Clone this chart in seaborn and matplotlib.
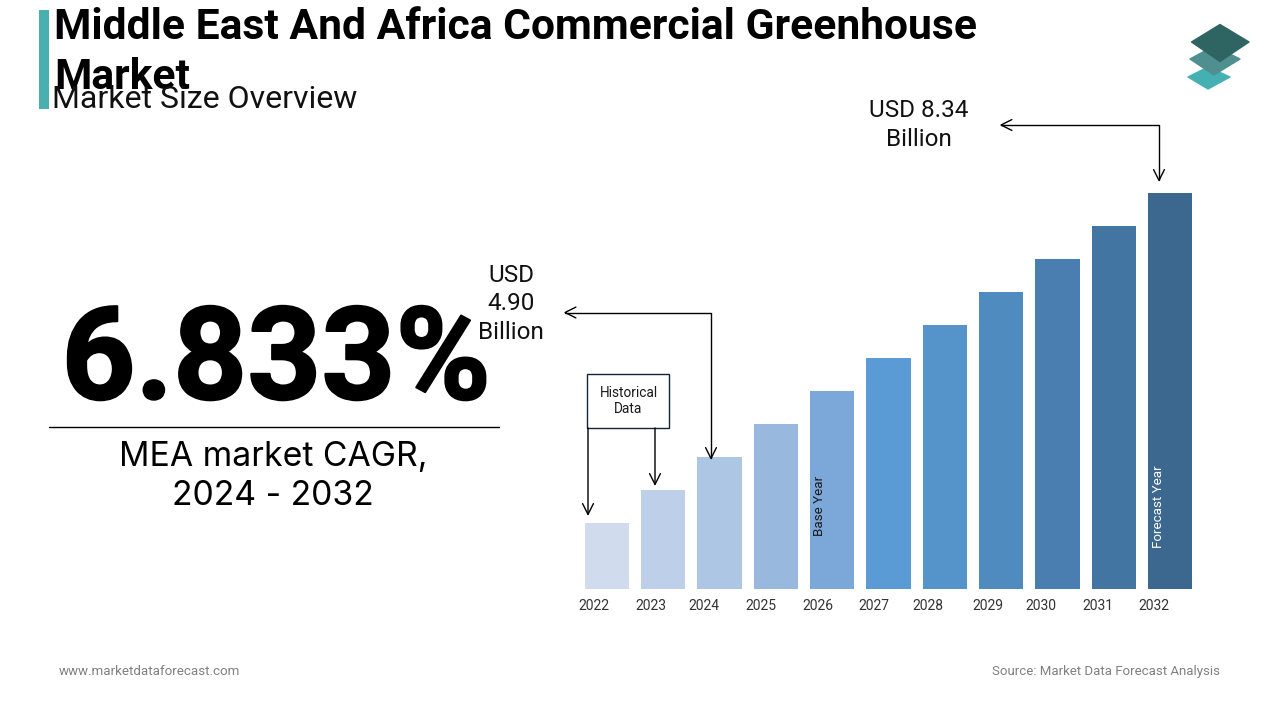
import matplotlib
matplotlib.use("Agg")
import matplotlib.pyplot as plt
import matplotlib.patheffects as pe
from matplotlib.patches import FancyArrowPatch, Polygon, Rectangle
from matplotlib.path import Path
from matplotlib.transforms import ScaledTranslation
import pandas as pd
import seaborn as sns

years = ["2022", "2023", "2024", "2025", "2026", "2027", "2028", "2029", "2030", "2031", "2032"]
bar_heights = [66, 99, 132, 165, 198, 231, 264, 297, 330, 363, 396]
bar_colors = ["#D0DCEE", "#BED0E9", "#ADC6E4", "#98B8DE", "#7BA8D9", "#5B9BD5",
              "#5593CB", "#4F8BBF", "#4A7EB0", "#4275A1", "#3C688F"]
label_shift_px = [-13, -12, -16, -15, -14, -15, -17, -13, -17, -16, -16]

title_text = "Middle East And Africa Commercial Greenhouse\nMarket"
subtitle_text = "Market Size Overview"
cagr_text = "6.833%"
cagr_caption = "MEA market CAGR,\n2024 - 2032"
callout_2024 = "USD\n4.90\nBillion"
callout_2032 = "USD 8.34\nBillion"
footer_left = "www.marketdataforecast.com"
footer_right = "Source: Market Data Forecast Analysis"

sns.set_theme(style="white")
plt.rcParams["font.family"] = ["Roboto", "DejaVu Sans"]

W, H = 1280, 720
fig = plt.figure(figsize=(12.8, 7.2), dpi=100, facecolor="white")

# bar chart axes
L, R, B, T = 578.85, 1198.15, 589, 180
ax = fig.add_axes([L / W, 1 - B / H, (R - L) / W, (B - T) / H])
df = pd.DataFrame({"year": years, "height": bar_heights})
sns.barplot(data=df, x="year", y="height", hue="year", palette=bar_colors,
            dodge=False, legend=False, width=0.787, saturation=1, linewidth=0, ax=ax)
ax.set_xlim(-0.5, 10.5)
ax.set_ylim(0, B - T)
ax.set_xlabel("")
ax.set_ylabel("")
ax.set_yticks([])
sns.despine(ax=ax, left=True, bottom=True)
ax.tick_params(axis="x", length=0, pad=7)
for lab, dx in zip(ax.get_xticklabels(), label_shift_px):
    lab.set_fontsize(10)
    lab.set_color("#333333")
    lab.set_transform(lab.get_transform() + ScaledTranslation(dx / 100, 0, fig.dpi_scale_trans))

# overlay in pixel coordinates
ov = fig.add_axes([0, 0, 1, 1], facecolor="none")
ov.set_xlim(0, W)
ov.set_ylim(H, 0)
ov.axis("off")

ov.add_patch(Rectangle((39, 10), 10, 99, fc="#4AAFAF", ec="none"))
ov.text(54, 88.7, title_text, fontsize=30.7, fontweight="bold", color="black",
        va="baseline", ha="left", linespacing=1.27)
ov.text(52, 108.5, subtitle_text, fontsize=23, color="#111111", va="baseline", ha="left")

big = ov.text(276, 399, cagr_text, fontsize=93, fontweight="bold", family="Roboto", color="black",
              va="baseline", ha="center")
big.set_path_effects([pe.withStroke(linewidth=1.5, foreground="black")])
ov.plot([49, 499], [427, 427], color="black", lw=1)
ov.text(273, 476.5, cagr_caption, fontsize=24.3, family="Inter", color="black",
        va="center", ha="center", linespacing=1.3)

ov.text(511, 304, callout_2024, fontsize=17.5, color="#111111", ha="center", va="center", linespacing=1.3)
ov.text(919, 125, callout_2032, fontsize=17.5, color="#111111", ha="center", va="center", linespacing=1.32)
ov.add_patch(Rectangle((587, 373.5), 82, 54, fc="white", ec="#12263a", lw=1, zorder=1))
ov.text(628.5, 401, "Historical\nData", fontsize=9.8, color="#1a1a1a", ha="center", va="center", linespacing=1.16)

arrow = dict(color="black", lw=1, mutation_scale=13, shrinkA=0, shrinkB=0, zorder=5)
both = "<->,head_length=0.6,head_width=0.3"
one = "->,head_length=0.6,head_width=0.3"
ov.add_patch(FancyArrowPatch(path=Path([(563.5, 312.5), (711, 312.5), (711, 460)]), arrowstyle=both, **arrow))
ov.add_patch(FancyArrowPatch(path=Path([(999.5, 125), (1159, 125), (1159, 182)]), arrowstyle=both, **arrow))
ov.add_patch(FancyArrowPatch((588, 428), (588, 516), arrowstyle=one, **arrow))
ov.add_patch(FancyArrowPatch((655, 428), (655, 486), arrowstyle=one, **arrow))

ov.text(819.5, 506, "Base Year", rotation=90, fontsize=9.6, color="#1a1a1a", ha="center", va="center")
ov.text(1158.5, 507, "Forecast Year", rotation=90, fontsize=9.6, color="white", ha="center", va="center")

ov.add_patch(Polygon([(1188, 77), (1208, 67), (1230, 77), (1208, 89)], closed=True, fc="#45B0B2", ec="#45B0B2", lw=1, joinstyle="round"))
ov.add_patch(Polygon([(1190, 59), (1214, 46), (1240, 59), (1214, 75)], closed=True, fc="#4F8F8F", ec="#4F8F8F", lw=1, joinstyle="round"))
ov.add_patch(Polygon([(1191.5, 42), (1220, 24.5), (1249, 42), (1220, 61.5)], closed=True, fc="#2E6462", ec="#2E6462", lw=1, joinstyle="round"))

ov.text(59, 671.5, footer_left, fontsize=9.6, color="#808080", ha="left", va="center")
ov.text(1220, 671, footer_right, fontsize=9.58, color="#808080", ha="right", va="center")

fig.savefig("out.png", dpi=100)
